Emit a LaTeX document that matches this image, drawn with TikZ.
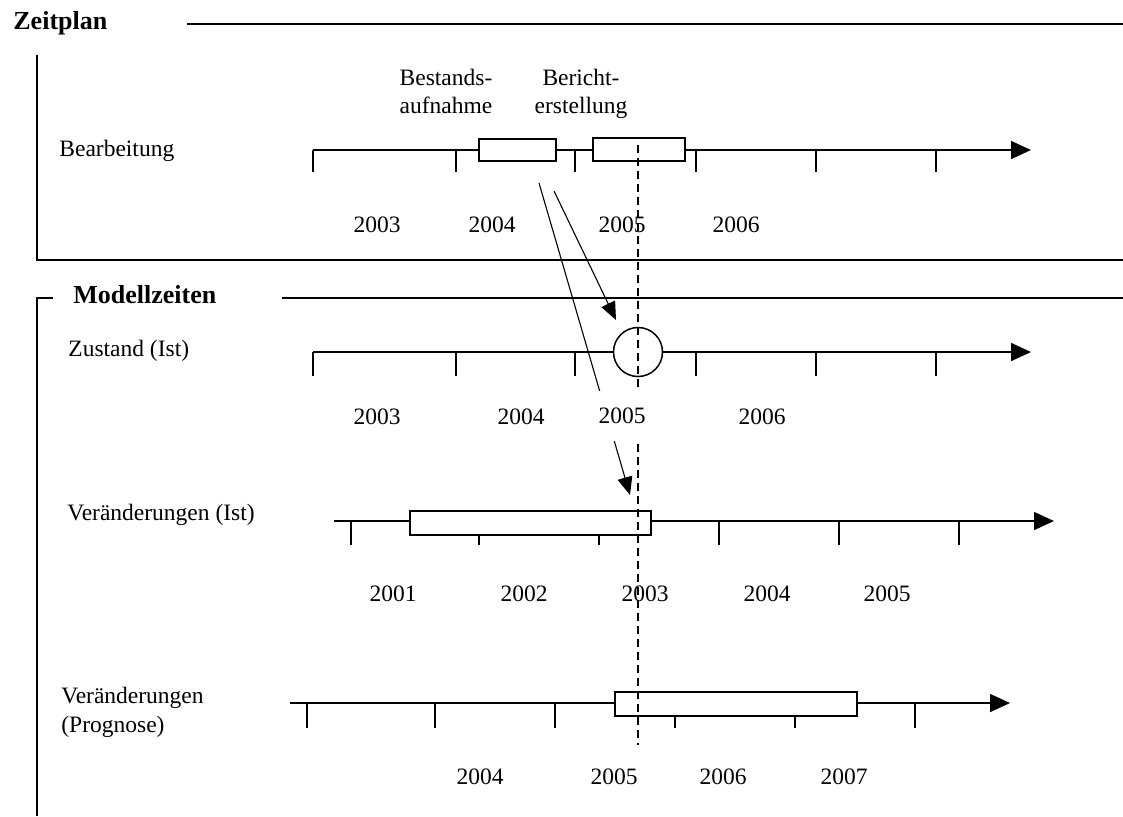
\documentclass[tikz,border=0pt]{standalone}
\usepackage{fontspec}
\setmainfont{Liberation Serif}
\usetikzlibrary{arrows.meta}
\tikzstyle{rule} = [
 line width=0.75pt
]
\tikzstyle{axis} = [
 line width=0.75pt,
 -{Triangle[length=10pt,width=9pt]}
]
\tikzstyle{bar} = [
 draw,
 line width=0.75pt,
 fill=white
]
\tikzstyle{link} = [
 line width=0.55pt,
 -{Triangle[length=9pt,width=7.5pt]}
]
\tikzstyle{marker} = [
 line width=0.75pt,
 dash pattern=on 4pt off 2.5pt
]
\tikzstyle{year} = [
 anchor=base,
 inner sep=0pt,
 font=\fontsize{11.75}{14}\selectfont
]
\tikzstyle{rowname} = [
 anchor=base west,
 inner sep=0pt,
 align=left,
 font=\fontsize{11.75}{14}\selectfont
]
\tikzstyle{heading} = [
 anchor=base west,
 inner sep=0pt,
 font=\fontsize{13}{15}\selectfont\bfseries
]

\begin{document}
\begin{tikzpicture}[x=0.5pt,y=-0.5pt]
  \useasboundingbox (0,0) rectangle (1123,816);

  \node [heading] (zp) at (13,29) {Zeitplan};
  \draw [rule] (187,24) -- (1123,24);
  \draw [rule] (37,55) -- (37,260) -- (1123,260);

  \node [rowname] (bearb) at (59,156) {Bearbeitung};
  \node [year, align=center] (bestand) at (446,113) {Bestands-\\aufnahme};
  \node [year, align=center] (bericht) at (581,113) {Bericht-\\erstellung};
  \draw [axis] (313,150) -- (1031,150);
  \foreach \x in {313,456,575,696,816,936}
    \draw [rule] (\x,150) -- (\x,172);
  \draw [bar] (479,139) rectangle (556,161);
  \draw [bar] (593,138) rectangle (685,161);
  \foreach \x/\y in {377/2003,492/2004,622/2005,736/2006}
    \node [year] (t1-\y) at (\x,232) {\y};

  \node [heading] (mz) at (73,303) {Modellzeiten};
  \draw [rule] (282,298) -- (1123,298);
  \draw [rule] (53,298) -- (37,298) -- (37,816);

  \node [rowname] (zust) at (68,356) {Zustand (Ist)};
  \draw [axis] (313,352) -- (1031,352);
  \foreach \x in {313,456,575,696,816,936}
    \draw [rule] (\x,352) -- (\x,376);
  \draw [bar] (638,352) circle (24.5);
  \foreach \x/\y in {377/2003,521/2004,762/2006}
    \node [year] (t2-\y) at (\x,424) {\y};

  \node [rowname] (vist) at (67,520) {Veränderungen (Ist)};
  \draw [axis] (334,521) -- (1054,521);
  \foreach \x in {351,479,599,719,839,959}
    \draw [rule] (\x,521) -- (\x,545);
  \draw [bar] (410,511) rectangle (651,535);
  \foreach \x/\y in {393/2001,524/2002,645/2003,767/2004,887/2005}
    \node [year] (t3-\y) at (\x,601) {\y};

  \node [rowname] (vprog) at (61,732) {Veränderungen\\[0.5pt](Prognose)};
  \draw [axis] (290,703) -- (1010,703);
  \foreach \x in {307,435,555,675,795,915}
    \draw [rule] (\x,703) -- (\x,728);
  \draw [bar] (615,692) rectangle (857,716);
  \foreach \x/\y in {480/2004,614/2005,723/2006,844/2007}
    \node [year] (t4-\y) at (\x,784) {\y};

  \coordinate (top) at (638,145);
  \coordinate (bottom) at (638,745);
  \draw [marker] (top) -- (bottom);

  \coordinate (a1) at (539,183);
  \coordinate (a2) at (630,495);
  \coordinate (b1) at (554,191);
  \coordinate (b2) at (616,320);
  \draw [link] (a1) -- (a2);
  \draw [link] (b1) -- (b2);

  \node [year, anchor=center, fill=white, inner xsep=1pt, minimum height=25pt] (t2-2005) at (622,416) {2005};
\end{tikzpicture}
\end{document}
